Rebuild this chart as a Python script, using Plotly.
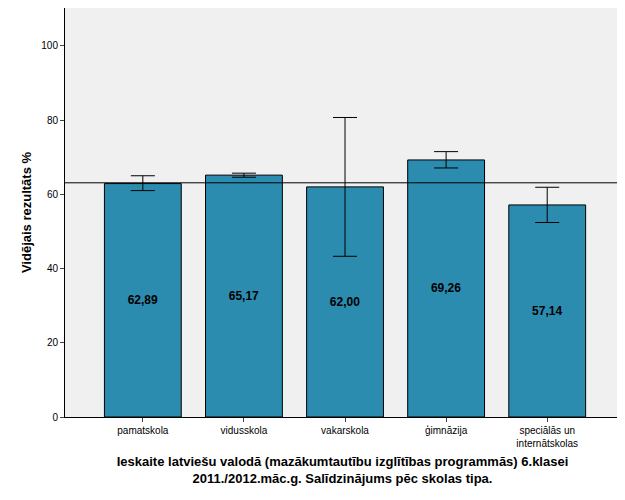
import plotly.graph_objects as go

categories = ["pamatskola", "vidusskola", "vakarskola", "ģimnāzija", "speciālās un<br>internātskolas"]
means = [62.89, 65.17, 62.00, 69.26, 57.14]
err_low = [61.0, 64.6, 43.3, 67.1, 52.4]
err_high = [65.0, 65.7, 80.7, 71.5, 61.9]
overall_mean = 63.1
labels = ["<b>62,89</b>", "<b>65,17</b>", "<b>62,00</b>", "<b>69,26</b>", "<b>57,14</b>"]

x = list(range(len(categories)))
fig = go.Figure()
fig.add_trace(go.Bar(
    x=x, y=means, width=0.76,
    marker=dict(color="#2B8CB0", line=dict(color="black", width=1)),
    text=labels, textposition="inside", insidetextanchor="middle",
    textfont=dict(family="Arial", size=12, color="black"),
    error_y=dict(type="data", symmetric=False,
                 array=[h - m for h, m in zip(err_high, means)],
                 arrayminus=[m - l for m, l in zip(means, err_low)],
                 color="black", thickness=1, width=12),
    showlegend=False,
))
fig.add_hline(y=overall_mean, line=dict(color="black", width=1))

fig.update_layout(
    width=625, height=500,
    margin=dict(l=57, r=13, t=0, b=91),
    paper_bgcolor="white", plot_bgcolor="#F0F0F0",
    font=dict(family="Arial", size=10, color="black"),
    xaxis=dict(range=[-0.77, 4.72], tickvals=x, ticktext=categories,
               showgrid=False, zeroline=False, showline=True, mirror=True,
               linecolor="black", ticks="outside", ticklen=4,
               title=dict(text="<b>Ieskaite latviešu valodā (mazākumtautību izglītības programmās) 6.klasei<br>2011./2012.māc.g. Salīdzinājums pēc skolas tipa.</b>",
                          font=dict(size=13), standoff=8)),
    yaxis=dict(range=[0, 110.2], tickvals=[0, 20, 40, 60, 80, 100],
               showgrid=False, zeroline=False, showline=True, mirror=True,
               linecolor="black", ticks="outside", ticklen=4,
               title=dict(text="<b>Vidējais rezultāts %</b>", font=dict(size=13), standoff=6)),
)
fig.write_html("out.html")
